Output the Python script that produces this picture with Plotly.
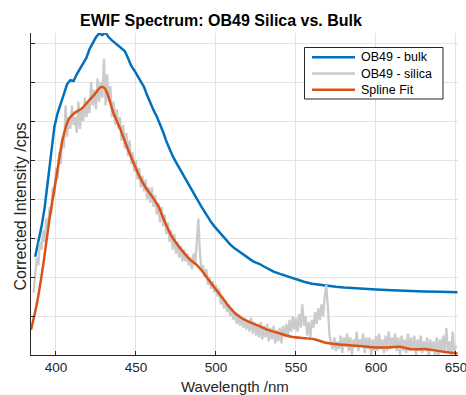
import plotly.graph_objects as go

# ---- data (arbitrary intensity units; y tick spacing = 1) ----
bulk_nm = [387, 389, 391, 393, 395, 397, 399, 401, 403, 405, 407, 409, 411, 413, 415, 417, 419,
           421, 423, 425, 427, 429, 431, 433, 435, 437, 439, 441, 443, 445, 447, 449, 451, 453,
           455, 457, 459, 461, 463, 465, 467, 469, 471, 473, 475, 477, 479, 481, 483, 485, 487,
           489, 491, 493, 495, 497, 499, 501, 503, 505, 507, 509, 511, 513, 515, 517, 519, 521,
           523, 525, 527, 530, 533, 536, 540, 545, 550, 555, 560, 565, 570, 575, 580, 590, 600,
           610, 620, 630, 640, 651]
bulk_val = [2.52, 2.9, 3.3, 3.8, 4.5, 5.3, 5.85, 6.2, 6.45, 6.7, 6.95, 7.05, 7.03, 7.2, 7.35, 7.5, 7.62,
            7.85, 8.0, 8.15, 8.25, 8.21, 8.27, 8.15, 8.07, 8.0, 7.93, 7.86, 7.8, 7.62, 7.42, 7.3, 7.16, 7.02,
            6.88, 6.66, 6.45, 6.28, 6.12, 5.94, 5.72, 5.48, 5.28, 5.1, 4.95, 4.8, 4.65, 4.5, 4.36, 4.22, 4.08,
            3.94, 3.8, 3.66, 3.53, 3.41, 3.3, 3.2, 3.1, 3.0, 2.91, 2.83, 2.76, 2.7, 2.63, 2.57, 2.51, 2.46,
            2.41, 2.37, 2.34, 2.27, 2.2, 2.14, 2.08, 2.01, 1.95, 1.88, 1.83, 1.8, 1.77, 1.75, 1.73, 1.70, 1.68,
            1.66, 1.64, 1.63, 1.62, 1.61]

# silica spectrum sampled every 1 nm from 386 to 650 nm
silica_nm = list(range(386, 651))
silica_val = [
    # 386-399
    1.6, 2.1, 2.5, 2.3, 2.9, 2.7, 3.2, 2.9, 3.5, 3.3, 3.8, 3.6, 4.3, 4.1,
    # 400-419
    4.8, 4.5, 5.2, 4.9, 5.6, 5.3, 6.4, 5.6, 6.1, 5.8, 6.4, 5.9, 6.1, 5.7, 6.5, 5.8, 6.3, 6.0, 6.6, 6.1,
    # 420-439
    6.5, 6.2, 7.0, 6.4, 6.8, 6.3, 7.1, 6.5, 7.0, 6.6, 7.6, 6.4, 7.2, 6.5, 6.9, 6.1, 6.5, 5.9, 6.3, 5.8,
    # 440-459
    6.1, 5.5, 5.9, 5.3, 5.7, 5.1, 5.5, 4.9, 5.2, 4.7, 5.0, 4.5, 4.8, 4.3, 4.6, 4.2, 4.5, 4.0, 4.3, 3.9,
    # 460-479
    4.3, 3.8, 4.1, 3.6, 3.9, 3.4, 3.8, 3.3, 3.6, 3.1, 3.4, 2.9, 3.2, 2.7, 3.1, 2.6, 2.9, 2.5, 2.8, 2.4,
    # 480-499
    2.7, 2.4, 2.6, 2.3, 2.5, 2.2, 2.6, 2.3, 2.9, 3.5, 2.6, 2.2, 2.3, 2.0, 2.2, 1.8, 2.0, 1.7, 1.9, 1.6,
    # 500-519
    1.8, 1.5, 1.7, 1.3, 1.5, 1.2, 1.4, 1.1, 1.3, 1.0, 1.2, 0.9, 1.1, 0.8, 1.05, 0.75, 1.0, 0.7, 0.95, 0.65,
    # 520-539
    0.9, 0.6, 0.95, 0.55, 0.85, 0.5, 0.8, 0.45, 0.85, 0.4, 0.75, 0.45, 0.8, 0.35, 0.7, 0.4, 0.75, 0.3, 0.65, 0.35,
    # 540-559
    0.7, 0.3, 0.75, 0.45, 0.8, 0.5, 0.9, 0.6, 1.0, 0.65, 0.95, 0.6, 1.05, 0.7, 1.3, 0.75, 1.0, 0.5, 0.85, 0.45,
    # 560-579
    0.9, 0.7, 1.1, 0.8, 1.2, 0.9, 1.3, 1.0, 1.5, 1.8, 1.2, 0.5, 0.3, 0.15, 0.45, 0.1, 0.35, 0.15, 0.5, 0.05,
    # 580-599
    0.45, 0.2, 0.55, 0.1, 0.45, 0.0, 0.4, 0.2, 0.6, 0.1, 0.4, 0.2, 0.55, 0.05, 0.45, 0.15, 0.45, -0.05, 0.4, 0.1,
    # 600-619
    0.5, 0.1, 0.55, 0.15, 0.4, 0.05, 0.5, 0.1, 0.6, 0.15, 0.45, 0.2, 0.55, 0.1, 0.45, 0.0, 0.5, 0.1, 0.4, 0.05,
    # 620-639
    0.55, 0.1, 0.45, 0.15, 0.5, 0.0, 0.4, 0.1, 0.5, 0.05, 0.35, 0.1, 0.45, -0.05, 0.4, 0.1, 0.35, 0.0, 0.45, -0.05,
    # 640-650
    0.4, 0.1, 0.5, 0.05, 0.7, 0.1, 0.35, 0.0, 0.6, 0.05, 0.25,
]

spline_nm = [384.4, 388, 392, 396, 400, 404, 408, 412, 416, 420, 424, 428, 430, 432, 436, 440, 444,
             448, 452, 456, 460, 464, 468, 472, 476, 480, 484, 488, 492, 496, 500, 504, 508, 512, 516,
             520, 526, 532, 540, 548, 556, 562, 568, 574, 580, 590, 600, 610, 615, 622, 632, 641, 651]
spline_val = [0.64, 1.3, 2.3, 3.5, 4.5, 5.5, 6.05, 6.22, 6.32, 6.5, 6.68, 6.87, 6.86, 6.72, 6.2, 5.82, 5.38,
              4.98, 4.6, 4.3, 4.07, 3.82, 3.42, 3.07, 2.83, 2.62, 2.44, 2.31, 2.12, 1.9, 1.68, 1.47, 1.25, 1.07,
              0.95, 0.86, 0.76, 0.65, 0.55, 0.46, 0.43, 0.4, 0.32, 0.28, 0.26, 0.23, 0.19, 0.2, 0.21, 0.15,
              0.15, 0.09, 0.04]

x_ticks = [400, 450, 500, 550, 600, 650]
y_ticks = [0, 1, 2, 3, 4, 5, 6, 7, 8]

series_names = ["OB49 - bulk", "OB49 - silica", "Spline Fit"]
series_colors = ["#0072BD", "#CBCBCB", "#D95319"]
series_widths = [2.5, 2.3, 2.5]

FONT = "Liberation Sans, Arial, Helvetica, sans-serif"
W, H = 466, 395
L, R, T, B = 31, 8, 33, 40
PW, PH = W - L - R, H - T - B


def px_x(p):  # pixel -> paper x
    return (p - L) / PW


def px_y(p):  # pixel -> paper y
    return (H - B - p) / PH


fig = go.Figure()
fig.add_trace(go.Scatter(x=bulk_nm, y=bulk_val, mode="lines", name=series_names[0],
                         line=dict(color=series_colors[0], width=series_widths[0])))
fig.add_trace(go.Scatter(x=silica_nm, y=silica_val, mode="lines", name=series_names[1],
                         line=dict(color=series_colors[1], width=series_widths[1])))
fig.add_trace(go.Scatter(x=spline_nm, y=spline_val, mode="lines", name=series_names[2],
                         line=dict(color=series_colors[2], width=series_widths[2], shape="spline",
                                   smoothing=0.6)))

fig.update_layout(
    width=W, height=H,
    margin=dict(l=L, r=R, t=T, b=B, autoexpand=False),
    paper_bgcolor="white", plot_bgcolor="white",
    font=dict(family=FONT, color="#262626", size=13),
    title=dict(text="<b>EWIF Spectrum: OB49 Silica vs. Bulk</b>", x=221 / W, xanchor="center",
               y=1 - 20 / H, yanchor="middle", font=dict(size=16, color="black")),
    showlegend=False,
)
fig.update_xaxes(range=[384.4, 651.3], tickvals=x_ticks, ticks="inside", ticklen=4,
                 tickcolor="#262626", showline=True, linecolor="#262626", linewidth=1,
                 showgrid=True, gridcolor="#E3E3E3", gridwidth=1, zeroline=False, automargin=False,
                 ticklabeloverflow="allow",
                 tickfont=dict(size=13.5, color="#262626"))
fig.update_yaxes(range=[0, 8.26], tickvals=y_ticks, showticklabels=False, ticks="inside", ticklen=4,
                 tickcolor="#262626", showline=True, linecolor="#262626", linewidth=1,
                 showgrid=True, gridcolor="#E3E3E3", gridwidth=1, zeroline=False, automargin=False)
fig.add_annotation(text="Corrected Intensity /cps", textangle=-90, xref="paper", yref="paper",
                   x=px_x(19.5), y=px_y(207), xanchor="center", yanchor="middle", showarrow=False,
                   font=dict(size=16, color="#262626"))
fig.add_annotation(text="Wavelength /nm", xref="paper", yref="paper",
                   x=px_x(235), y=px_y(386), xanchor="center", yanchor="middle",
                   showarrow=False, font=dict(size=15, color="#262626"))

# legend box (MATLAB style: compact rows)
fig.add_shape(type="rect", xref="paper", yref="paper",
              x0=px_x(304.5), x1=px_x(443), y0=px_y(99), y1=px_y(47.5),
              fillcolor="white", line=dict(color="#262626", width=1), layer="above")
for i, (nm, col) in enumerate(zip(series_names, series_colors)):
    yy = px_y(57.3 + 16.2 * i)
    fig.add_shape(type="line", xref="paper", yref="paper", x0=px_x(312), x1=px_x(355), y0=yy, y1=yy,
                  line=dict(color=col, width=2.5), layer="above")
    fig.add_annotation(text=nm, xref="paper", yref="paper", x=px_x(358.5), y=yy,
                       xanchor="left", yanchor="middle", showarrow=False,
                       font=dict(size=12.5, color="black"))

fig.write_html("out.html", config={"displayModeBar": False},
               post_script="document.body.style.margin='0px';")
